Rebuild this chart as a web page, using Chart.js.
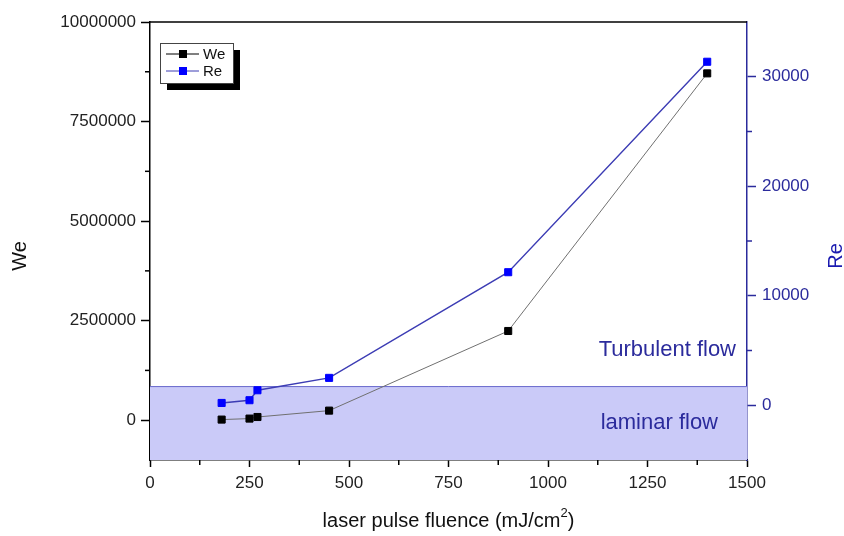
<!DOCTYPE html>
<html>
<head>
<meta charset="utf-8">
<script src="https://cdn.jsdelivr.net/npm/chart.js@4.4.0/dist/chart.umd.min.js"></script>
<style>
  body { margin: 0; background: #fff; }
  #wrap { width: 844px; height: 536px; }
</style>
</head>
<body>
<div id="wrap"><canvas id="c"></canvas></div>
<script>
// values
var fluence = [180, 250, 270, 450, 900, 1400];
var weValues = [15000, 40000, 80000, 240000, 2240000, 8710000];
var reValues = [210, 460, 1370, 2500, 12150, 31370];

var xTicks = [0, 250, 500, 750, 1000, 1250, 1500];
var xMinor = [125, 375, 625, 875, 1125, 1375];
var weTicks = [0, 2500000, 5000000, 7500000, 10000000];
var weMinor = [1250000, 3750000, 6250000, 8750000];
var reTicks = [0, 10000, 20000, 30000];
var reMinor = [5000, 15000, 25000];
var laminarRe = 1750;

var FONT = "'Liberation Sans', Arial, sans-serif";
var BLUE = '#2b2b9c';

function pts(ys) {
  return fluence.map(function (x, i) { return { x: x, y: ys[i] }; });
}
function setTicks(list) {
  return function (s) { s.ticks = list.map(function (v) { return { value: v }; }); };
}

var extras = {
  id: 'extras',
  beforeDatasetsDraw: function (chart) {
    var ctx = chart.ctx, a = chart.chartArea;
    var top = chart.scales.y2.getPixelForValue(laminarRe);
    ctx.save();
    ctx.fillStyle = '#cacaf8';
    ctx.fillRect(a.left, top, a.right - a.left, a.bottom - top);
    ctx.strokeStyle = '#6a6acc';
    ctx.lineWidth = 1;
    ctx.beginPath();
    ctx.moveTo(a.left, top + 0.5);
    ctx.lineTo(a.right, top + 0.5);
    ctx.stroke();

    ctx.fillStyle = BLUE;
    ctx.font = '22px ' + FONT;
    ctx.textAlign = 'right';
    ctx.textBaseline = 'middle';
    ctx.fillText('Turbulent flow', a.right - 11, top - 36);
    ctx.fillText('laminar flow', a.right - 29, (top + a.bottom) / 2);
    ctx.restore();
  },
  afterDraw: function (chart) {
    var ctx = chart.ctx, a = chart.chartArea, sc = chart.scales;
    ctx.save();
    // top frame line
    ctx.strokeStyle = '#000';
    ctx.lineWidth = 1.5;
    ctx.beginPath();
    ctx.moveTo(a.left, a.top);
    ctx.lineTo(a.right, a.top);
    ctx.stroke();

    // minor ticks
    ctx.lineWidth = 1.5;
    xMinor.forEach(function (v) {
      var x = sc.x.getPixelForValue(v);
      ctx.beginPath(); ctx.moveTo(x, a.bottom); ctx.lineTo(x, a.bottom + 5); ctx.stroke();
    });
    weMinor.forEach(function (v) {
      var y = sc.y.getPixelForValue(v);
      ctx.beginPath(); ctx.moveTo(a.left - 5, y); ctx.lineTo(a.left, y); ctx.stroke();
    });
    ctx.strokeStyle = BLUE;
    reMinor.forEach(function (v) {
      var y = sc.y2.getPixelForValue(v);
      ctx.beginPath(); ctx.moveTo(a.right, y); ctx.lineTo(a.right + 5, y); ctx.stroke();
    });

    // axis titles
    ctx.font = '20px ' + FONT;
    ctx.textAlign = 'center';
    ctx.textBaseline = 'middle';
    ctx.fillStyle = '#111';
    ctx.save();
    ctx.translate(20, 256);
    ctx.rotate(-Math.PI / 2);
    ctx.fillText('We', 0, 0);
    ctx.restore();
    ctx.fillStyle = '#1a1ab0';
    ctx.save();
    ctx.translate(836, 256);
    ctx.rotate(-Math.PI / 2);
    ctx.fillText('Re', 0, 0);
    ctx.restore();

    // x title with superscript
    var t1 = 'laser pulse fluence (mJ/cm', t2 = '2', t3 = ')';
    ctx.fillStyle = '#111';
    ctx.textAlign = 'left';
    ctx.font = '20px ' + FONT;
    var w1 = ctx.measureText(t1).width, w3 = ctx.measureText(t3).width;
    ctx.font = '13px ' + FONT;
    var w2 = ctx.measureText(t2).width;
    var xs = (a.left + a.right) / 2 - (w1 + w2 + w3) / 2, yb = 521;
    ctx.font = '20px ' + FONT;
    ctx.fillText(t1, xs, yb);
    ctx.font = '13px ' + FONT;
    ctx.fillText(t2, xs + w1, yb - 8);
    ctx.font = '20px ' + FONT;
    ctx.fillText(t3, xs + w1 + w2, yb);

    // legend
    var lx = 160, ly = 43, lw = 73, lh = 40;
    ctx.fillStyle = '#000';
    ctx.fillRect(lx + 7, ly + 7, lw, lh);
    ctx.fillStyle = '#fff';
    ctx.fillRect(lx, ly, lw, lh);
    ctx.strokeStyle = '#444';
    ctx.lineWidth = 1;
    ctx.strokeRect(lx + 0.5, ly + 0.5, lw, lh);
    var rows = [
      { label: 'We', line: '#000', fill: '#000', y: ly + 11 },
      { label: 'Re', line: '#3c3cb4', fill: '#0000ff', y: ly + 28 }
    ];
    ctx.font = '15px ' + FONT;
    ctx.textBaseline = 'middle';
    rows.forEach(function (r) {
      ctx.strokeStyle = r.line;
      ctx.beginPath(); ctx.moveTo(lx + 6, r.y); ctx.lineTo(lx + 39, r.y); ctx.stroke();
      ctx.fillStyle = r.fill;
      ctx.fillRect(lx + 19, r.y - 4, 8, 8);
      ctx.fillStyle = '#111';
      ctx.fillText(r.label, lx + 43, r.y + 1);
    });
    ctx.restore();
  }
};

new Chart(document.getElementById('c'), {
  type: 'scatter',
  data: {
    datasets: [
      {
        label: 'We',
        data: pts(weValues),
        yAxisID: 'y',
        showLine: true,
        borderColor: '#707070',
        borderWidth: 1,
        pointStyle: 'rect',
        pointRadius: 5,
        pointBackgroundColor: '#000',
        pointBorderColor: '#000',
        pointBorderWidth: 1
      },
      {
        label: 'Re',
        data: pts(reValues),
        yAxisID: 'y2',
        showLine: true,
        borderColor: '#3c3cb4',
        borderWidth: 1.4,
        pointStyle: 'rect',
        pointRadius: 5,
        pointBackgroundColor: '#0000ff',
        pointBorderColor: '#0000ff',
        pointBorderWidth: 1
      }
    ]
  },
  options: {
    responsive: true,
    maintainAspectRatio: false,
    animation: false,
    layout: { padding: { top: 22, left: 0, right: 0, bottom: 0 } },
    plugins: { legend: { display: false }, tooltip: { enabled: false } },
    scales: {
      x: {
        type: 'linear',
        position: 'bottom',
        min: 0, max: 1500,
        afterBuildTicks: setTicks(xTicks),
        afterFit: function (s) { s.height = 76; },
        ticks: { autoSkip: false, maxRotation: 0, padding: 6, color: '#222',
          font: { family: FONT, size: 17 }, callback: function (v) { return String(v); } },
        grid: { drawOnChartArea: false, tickLength: 7, tickColor: '#000', tickWidth: 1.5 },
        border: { color: '#000', width: 1.5 }
      },
      y: {
        type: 'linear',
        position: 'left',
        min: -1000000, max: 10000000,
        afterBuildTicks: setTicks(weTicks),
        afterFit: function (s) { s.width = 150; },
        ticks: { autoSkip: false, padding: 5, color: '#222',
          font: { family: FONT, size: 17 }, callback: function (v) { return String(v); } },
        grid: { drawOnChartArea: false, tickLength: 9, tickColor: '#000', tickWidth: 1.5 },
        border: { color: '#000', width: 1.5 }
      },
      y2: {
        type: 'linear',
        position: 'right',
        min: -5000, max: 35000,
        afterBuildTicks: setTicks(reTicks),
        afterFit: function (s) { s.width = 97; },
        ticks: { autoSkip: false, padding: 6, color: BLUE,
          font: { family: FONT, size: 17 }, callback: function (v) { return String(v); } },
        grid: { drawOnChartArea: false, tickLength: 9, tickColor: BLUE, tickWidth: 1.5 },
        border: { color: BLUE, width: 1.5 }
      }
    }
  },
  plugins: [extras]
});
</script>
</body>
</html>
